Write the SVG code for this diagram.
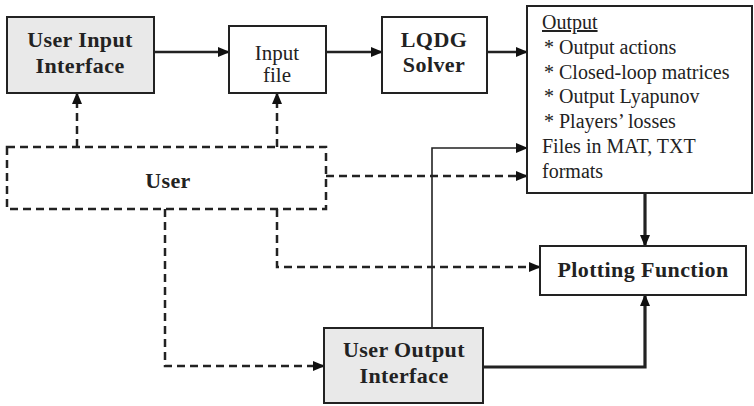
<svg xmlns="http://www.w3.org/2000/svg" width="754" height="406" viewBox="0 0 754 406">
<style>
.box{fill:#fff;stroke:#222;stroke-width:2}
.gray{fill:#e9e9e9}
.dbox{fill:#fff;stroke:#222;stroke-width:2.5;stroke-dasharray:8,5}
text{font-family:'Liberation Serif','Times New Roman',Times,'DejaVu Serif',serif;fill:#222}
.b{font-weight:bold;font-size:22px;letter-spacing:0.4px;text-anchor:middle}
.r{font-size:21px;text-anchor:middle}
.o{font-size:20px}
.c{fill:none;stroke:#222;stroke-width:2.5}
.thin{fill:none;stroke:#222;stroke-width:1.6}
.thick{fill:none;stroke:#222;stroke-width:3.2}
.dash{fill:none;stroke:#222;stroke-width:2.5;stroke-dasharray:8,5}
</style>
<defs>
<marker id="ah" markerUnits="userSpaceOnUse" markerWidth="12" markerHeight="10" refX="11" refY="5" orient="auto">
<path d="M0,0 L12,5 L0,10 z" fill="#111"/>
</marker>
</defs>
<g id="connectors">
<line class="c" x1="154" y1="52" x2="229" y2="52" marker-end="url(#ah)"/>
<line class="c" x1="326" y1="52" x2="382" y2="52" marker-end="url(#ah)"/>
<line class="c" x1="487" y1="52" x2="527" y2="52" marker-end="url(#ah)"/>
<line class="dash" x1="77" y1="147" x2="77" y2="93" marker-end="url(#ah)"/>
<line class="dash" x1="277" y1="147" x2="277" y2="93" marker-end="url(#ah)"/>
<line class="dash" x1="326" y1="176" x2="527" y2="176" marker-end="url(#ah)"/>
<polyline class="dash" points="277,209 277,267 540,267" marker-end="url(#ah)"/>
<polyline class="dash" points="165,209 165,366 324,366" marker-end="url(#ah)"/>
<polyline class="thin" points="432,328 432,148 527,148" marker-end="url(#ah)"/>
<line class="thick" x1="645" y1="193" x2="645" y2="246" marker-end="url(#ah)"/>
<polyline class="thick" points="483,367 645,367 645,295" marker-end="url(#ah)"/>
</g>
<g id="user-input-interface">
<rect class="box gray" x="7" y="17" width="147" height="76"/>
<text class="b" x="80" y="47">User Input</text>
<text class="b" x="80" y="73">Interface</text>
</g>
<g id="input-file">
<rect class="box" x="229" y="26" width="97" height="67"/>
<text class="r" x="277" y="60">Input</text>
<text class="r" x="277" y="82">file</text>
</g>
<g id="lqdg-solver">
<rect class="box" x="382" y="17" width="105" height="76"/>
<text class="b" x="434" y="47">LQDG</text>
<text class="b" x="434" y="72">Solver</text>
</g>
<g id="output">
<rect class="box" x="527" y="6" width="225" height="187"/>
<text class="o" x="542" y="29" text-decoration="underline">Output</text>
<text class="o" x="544" y="54">* Output actions</text>
<text class="o" x="544" y="79">* Closed-loop matrices</text>
<text class="o" x="544" y="103">* Output Lyapunov</text>
<text class="o" x="544" y="128">* Players’ losses</text>
<text class="o" x="542" y="153">Files in MAT, TXT</text>
<text class="o" x="542" y="178">formats</text>
</g>
<g id="user">
<rect class="dbox" x="7" y="147" width="319" height="62"/>
<text class="b" x="168" y="188">User</text>
</g>
<g id="plotting-function">
<rect class="box" x="540" y="246" width="206" height="49"/>
<text class="b" x="643" y="277">Plotting Function</text>
</g>
<g id="user-output-interface">
<rect class="box gray" x="324" y="328" width="159" height="75"/>
<text class="b" x="404" y="357">User Output</text>
<text class="b" x="404" y="383">Interface</text>
</g>
</svg>
